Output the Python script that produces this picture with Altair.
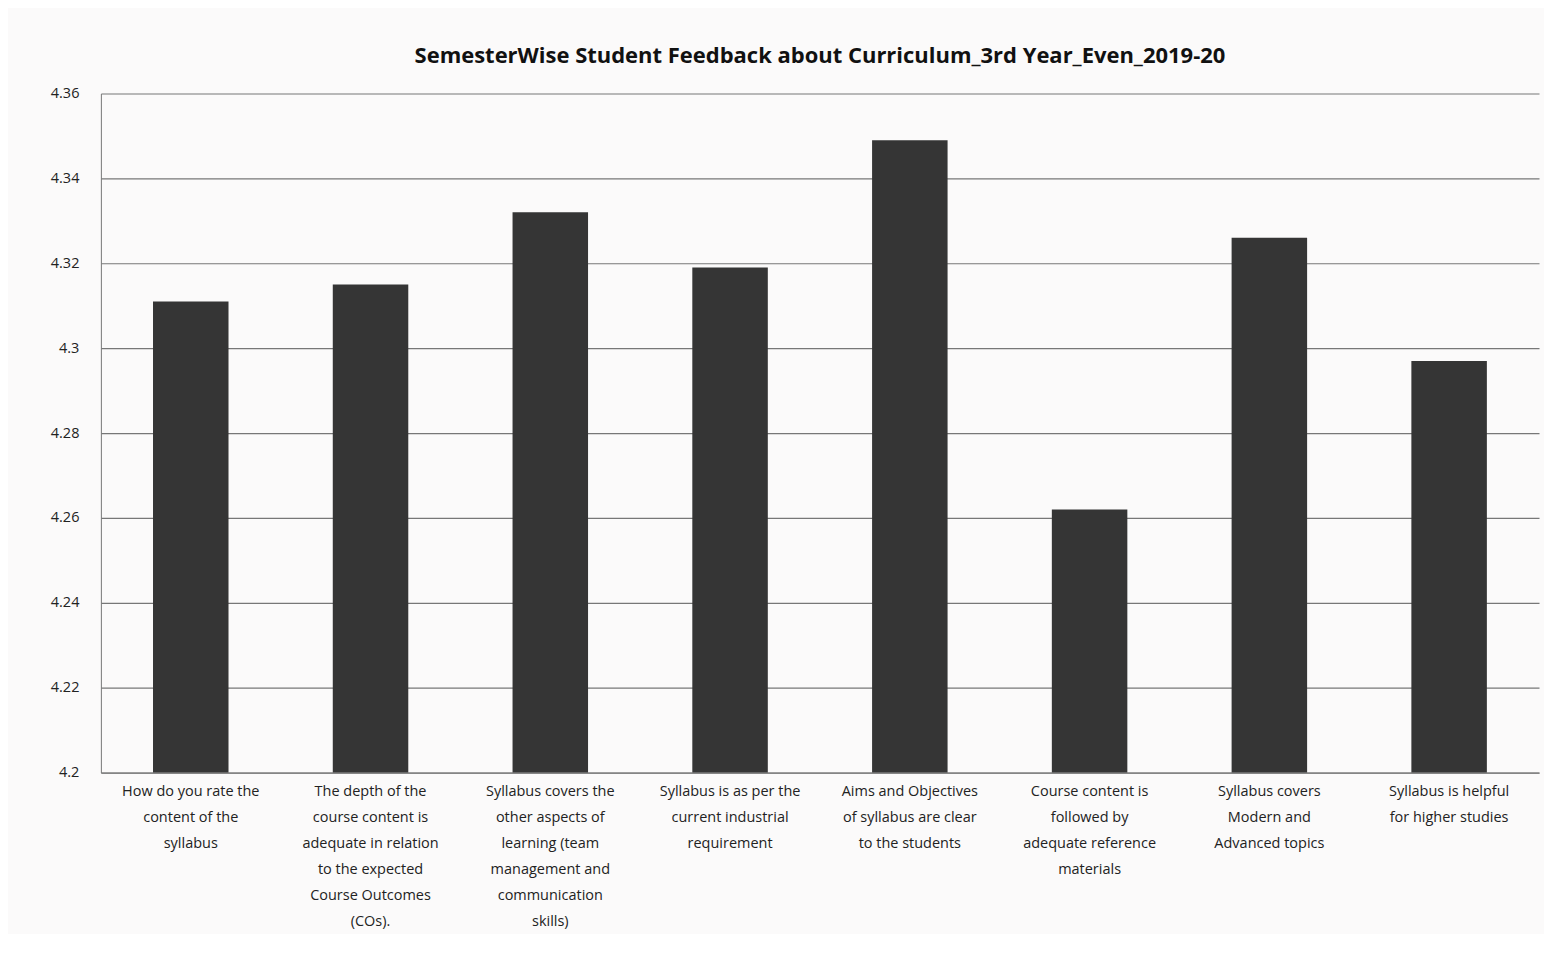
import altair as alt
import pandas as pd

categories = [
    "How do you rate the|content of the|syllabus",
    "The depth of the|course content is|adequate in relation|to the expected|Course Outcomes|(COs).",
    "Syllabus covers the|other aspects of|learning (team|management and|communication|skills)",
    "Syllabus is as per the|current industrial|requirement",
    "Aims and Objectives|of syllabus are clear|to the students",
    "Course content is|followed by|adequate reference|materials",
    "Syllabus covers|Modern and|Advanced topics",
    "Syllabus is helpful|for higher studies",
]
values = [4.311, 4.315, 4.332, 4.319, 4.349, 4.262, 4.326, 4.297]

df = pd.DataFrame({"q": categories, "v": values})

chart = (
    alt.Chart(df)
    .mark_bar(color="#353535", clip=True)
    .encode(
        x=alt.X(
            "q:N",
            sort=categories,
            title=None,
            scale=alt.Scale(paddingInner=0.58, paddingOuter=0.29),
            axis=alt.Axis(
                labelAngle=0,
                labelExpr="split(datum.label, '|')",
                labelFont="Open Sans",
                labelFontSize=14.5,
                labelLineHeight=26,
                labelColor="#222",
                labelPadding=12,
                ticks=False,
                domainColor="#777",
                labelLimit=200,
            ),
        ),
        y=alt.Y(
            "v:Q",
            title=None,
            scale=alt.Scale(domain=[4.2, 4.36], zero=False, nice=False),
            axis=alt.Axis(
                values=[4.2, 4.22, 4.24, 4.26, 4.28, 4.3, 4.32, 4.34, 4.36],
                labelExpr="format(datum.value, '.2~f')",
                labelFont="Open Sans",
                labelFontSize=14.5,
                labelColor="#222",
                labelPadding=22,
                ticks=False,
                domainColor="#777",
                gridColor="#777",
                gridWidth=1.2,
            ),
        ),
    )
    .properties(
        width=1440,
        height=680,
        padding={"left": 42, "top": 36, "right": 5, "bottom": 5},
        title=alt.TitleParams(
            "SemesterWise Student Feedback about Curriculum_3rd Year_Even_2019-20",
            font="Open Sans",
            fontSize=22,
            fontWeight="bold",
            color="#111",
            offset=18,
        ),
        background="#fbfafa",
    )
    .configure_view(stroke=None)
)

chart.save("out.html", embed_options={"renderer": "svg", "actions": False})
